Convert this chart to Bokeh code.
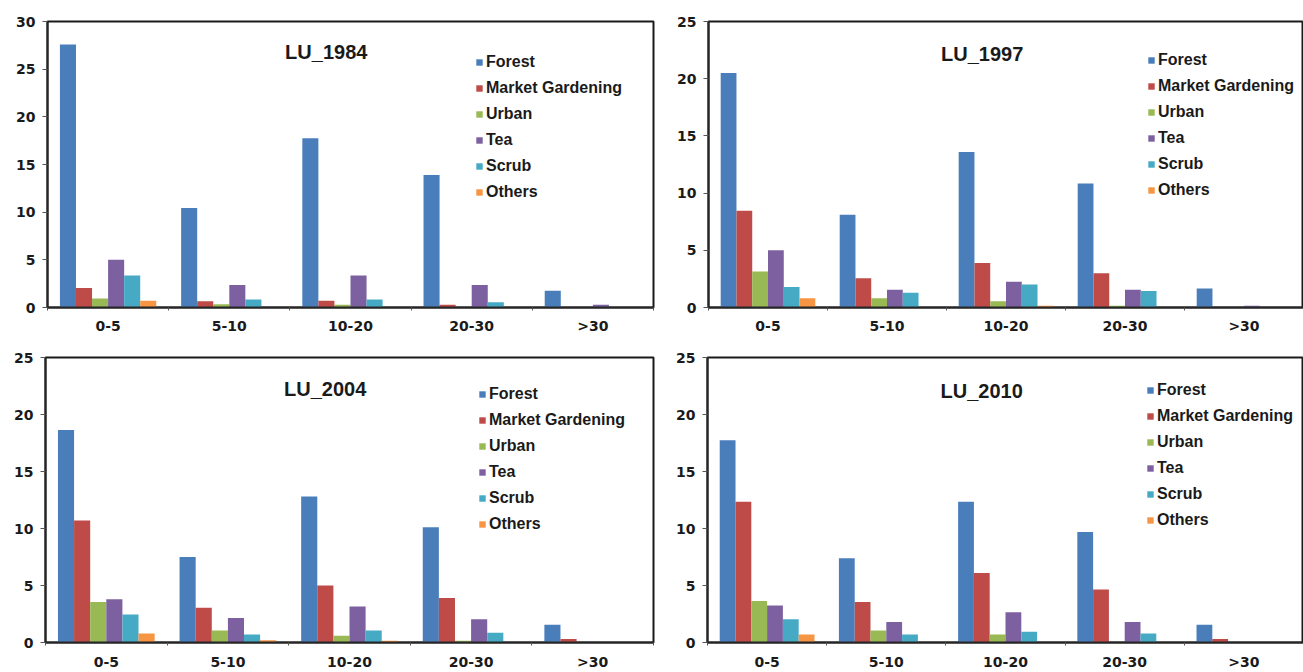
from bokeh.plotting import figure
from bokeh.models import Range1d, FixedTicker, Legend, LegendItem, Label
from bokeh.layouts import column, row
from bokeh.embed import file_html
from bokeh.resources import INLINE

# ---------------- data ----------------
categories = ["0-5", "5-10", "10-20", "20-30", ">30"]
series = ["Forest", "Market Gardening", "Urban", "Tea", "Scrub", "Others"]
colors = ["#4A7EBB", "#BE4B48", "#98B954", "#7D60A0", "#46AAC5", "#F69544"]

lu_1984 = {
    "Forest": [27.6, 10.45, 17.75, 13.9, 1.75],
    "Market Gardening": [2.05, 0.65, 0.7, 0.3, 0.0],
    "Urban": [0.95, 0.35, 0.3, 0.0, 0.0],
    "Tea": [5.0, 2.35, 3.35, 2.35, 0.3],
    "Scrub": [3.35, 0.85, 0.85, 0.55, 0.0],
    "Others": [0.7, 0.0, 0.0, 0.0, 0.0],
}
lu_1997 = {
    "Forest": [20.5, 8.1, 13.6, 10.85, 1.65],
    "Market Gardening": [8.45, 2.55, 3.9, 3.0, 0.0],
    "Urban": [3.15, 0.8, 0.55, 0.15, 0.0],
    "Tea": [5.0, 1.55, 2.25, 1.55, 0.15],
    "Scrub": [1.8, 1.3, 2.0, 1.45, 0.0],
    "Others": [0.8, 0.0, 0.15, 0.0, 0.0],
}
lu_2004 = {
    "Forest": [18.65, 7.5, 12.8, 10.1, 1.55],
    "Market Gardening": [10.7, 3.05, 5.0, 3.9, 0.3],
    "Urban": [3.55, 1.05, 0.6, 0.15, 0.0],
    "Tea": [3.8, 2.15, 3.15, 2.05, 0.0],
    "Scrub": [2.45, 0.7, 1.05, 0.85, 0.0],
    "Others": [0.8, 0.2, 0.15, 0.0, 0.0],
}
lu_2010 = {
    "Forest": [17.75, 7.4, 12.35, 9.7, 1.55],
    "Market Gardening": [12.35, 3.55, 6.1, 4.65, 0.3],
    "Urban": [3.65, 1.05, 0.7, 0.0, 0.0],
    "Tea": [3.25, 1.8, 2.65, 1.8, 0.0],
    "Scrub": [2.05, 0.7, 0.95, 0.8, 0.0],
    "Others": [0.7, 0.0, 0.0, 0.0, 0.0],
}

TICK_FONT = "DejaVu Sans"
TEXT_COLOR = "#1a1a1a"
BAR_W = 0.1325


def make_panel(title, data, ymax, width, height, borders, legend_loc,
               title_y, x_standoff):
    left, right, top, bottom = borders
    p = figure(width=width, height=height, output_backend="svg",
               toolbar_location=None, x_range=Range1d(0, len(categories)),
               y_range=Range1d(0, ymax),
               min_border_left=left, min_border_right=right,
               min_border_top=top, min_border_bottom=bottom)
    p.background_fill_color = "white"
    p.border_fill_color = "white"
    p.outline_line_color = "#1a1a1a"
    p.outline_line_width = 2
    p.xgrid.visible = False
    p.ygrid.visible = False

    items = []
    n = len(series)
    for k, (s, c) in enumerate(zip(series, colors)):
        xs = [i + 0.5 + (k - (n - 1) / 2) * BAR_W for i in range(len(categories))]
        r = p.vbar(x=xs, top=data[s], bottom=0, width=BAR_W,
                   fill_color=c, line_color=None)
        items.append(LegendItem(label=s, renderers=[r]))

    # x axis
    xa = p.xaxis[0]
    xa.ticker = FixedTicker(ticks=[i + 0.5 for i in range(len(categories))],
                            minor_ticks=list(range(len(categories) + 1)))
    xa.major_label_overrides = {i + 0.5: c for i, c in enumerate(categories)}
    xa.major_tick_out = 0
    xa.major_tick_in = 0
    xa.minor_tick_out = 3
    xa.minor_tick_in = 0
    xa.minor_tick_line_color = "#555555"
    xa.major_label_standoff = x_standoff
    xa.axis_line_color = "#262626"
    xa.axis_line_width = 2
    xa.major_label_text_font = TICK_FONT
    xa.major_label_text_font_style = "bold"
    xa.major_label_text_font_size = "14px"
    xa.major_label_text_color = TEXT_COLOR

    # y axis
    ya = p.yaxis[0]
    ya.ticker = FixedTicker(ticks=list(range(0, ymax + 1, 5)), minor_ticks=[])
    ya.major_tick_out = 5
    ya.major_tick_in = 0
    ya.major_tick_line_color = "#555555"
    ya.major_label_standoff = 7
    ya.axis_line_color = "#262626"
    ya.axis_line_width = 2
    ya.major_label_text_font = TICK_FONT
    ya.major_label_text_font_style = "bold"
    ya.major_label_text_font_size = "14px"
    ya.major_label_text_color = TEXT_COLOR

    legend = Legend(items=items, location=legend_loc)
    legend.label_text_font = "Liberation Sans"
    legend.label_text_font_style = "bold"
    legend.label_text_font_size = "16px"
    legend.label_text_color = TEXT_COLOR
    legend.glyph_width = 8
    legend.glyph_height = 8
    legend.label_standoff = 3
    legend.label_height = 21
    legend.spacing = 5
    legend.padding = 0
    legend.margin = 0
    legend.border_line_color = None
    legend.background_fill_alpha = 0
    p.add_layout(legend)

    lab = Label(x=2.3, y=title_y, text=title, text_align="center",
                text_baseline="middle", text_font="Liberation Sans",
                text_font_style="bold", text_font_size="20px",
                text_color=TEXT_COLOR)
    p.add_layout(lab)
    return p


p1 = make_panel("LU_1984", lu_1984, 30, 655, 336, (47, 2, 20, 29), (428, 105), 26.85, 7)
p2 = make_panel("LU_1997", lu_1997, 25, 648, 336, (53, 0, 21, 28), (439, 107), 22.2, 7)
p3 = make_panel("LU_2004", lu_2004, 25, 655, 336, (45, 2, 20, 29), (433, 108), 22.2, 8)
p4 = make_panel("LU_2010", lu_2010, 25, 648, 336, (52, 0, 21, 28), (439, 112), 22.1, 8)

layout = column(row(p1, p2), row(p3, p4))

with open("out.html", "w") as f:
    f.write(file_html(layout, INLINE))
